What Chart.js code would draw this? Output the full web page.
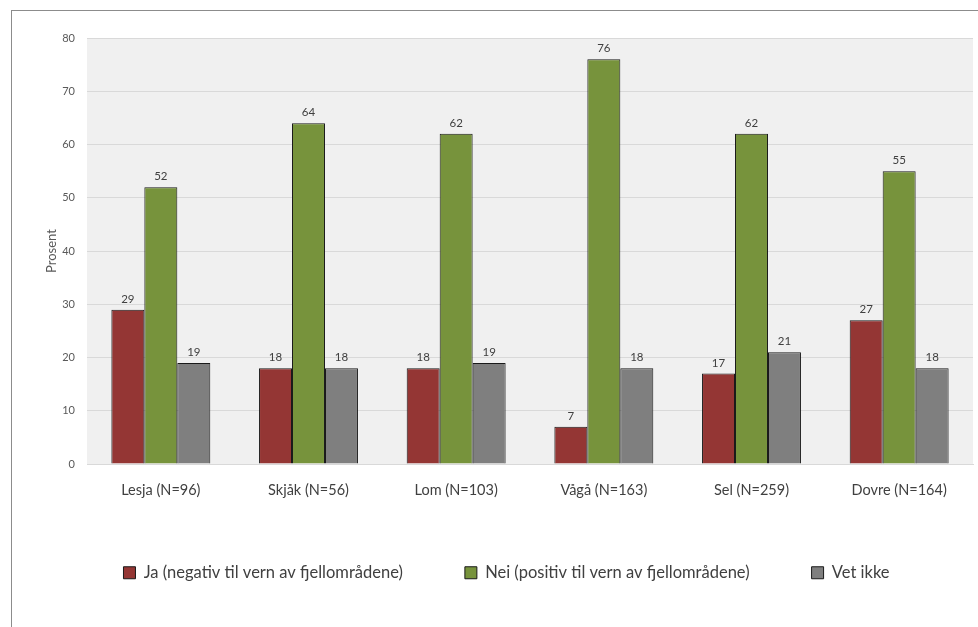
<!DOCTYPE html>
<html>
<head>
<meta charset="utf-8">
<script src="https://cdn.jsdelivr.net/npm/chart.js@4"></script>
<style>
  html, body { margin: 0; padding: 0; background: #fff; }
  #wrap { position: relative; width: 978px; height: 627px; }
  #frame { position: absolute; left: 11px; top: 10px; right: -5px; bottom: -5px;
           border-top: 1px solid #8c8c8c; border-left: 1px solid #8c8c8c; }
  canvas { position: absolute; left: 0; top: 0; }
</style>
</head>
<body>
<div id="wrap">
  <div id="frame"></div>
  <canvas id="myChart" width="978" height="627"></canvas>
</div>
<script>
// kommuner
const labels = ['Lesja (N=96)', 'Skjåk (N=56)', 'Lom (N=103)', 'Vågå (N=163)', 'Sel (N=259)', 'Dovre (N=164)']
const ja = [29, 18, 18, 7, 17, 27]
const nei = [52, 64, 62, 76, 62, 55]
const vetIkke = [19, 18, 19, 18, 21, 18]

const font = "Lato, 'Open Sans', sans-serif"

// grey plot background
const plotBg = {
  id: 'plotBg',
  beforeDraw(chart) {
    const { ctx, chartArea } = chart
    ctx.save()
    ctx.fillStyle = '#f0f0f0'
    ctx.fillRect(chartArea.left, chartArea.top, chartArea.right - chartArea.left, chartArea.bottom - chartArea.top)
    ctx.restore()
  },
}

// value labels above bars
const valueLabels = {
  id: 'valueLabels',
  afterDatasetsDraw(chart) {
    const { ctx } = chart
    ctx.save()
    ctx.font = '11.5px ' + font
    ctx.fillStyle = '#404040'
    ctx.textAlign = 'center'
    ctx.textBaseline = 'bottom'
    chart.data.datasets.forEach((ds, i) => {
      chart.getDatasetMeta(i).data.forEach((bar, j) => {
        ctx.fillText(ds.data[j], bar.x, bar.y - 5)
      })
    })
    ctx.restore()
  },
}

const myChartRef = document.getElementById('myChart').getContext('2d')

new Chart(myChartRef, {
  type: 'bar',
  data: {
    labels: labels,
    datasets: [
      {
        label: 'Ja (negativ til vern av fjellområdene)',
        data: ja,
        backgroundColor: '#943634',
      },
      {
        label: 'Nei (positiv til vern av fjellområdene)',
        data: nei,
        backgroundColor: '#77933c',
      },
      {
        label: 'Vet ikke',
        data: vetIkke,
        backgroundColor: '#7f7f7f',
      },
    ],
  },
  options: {
    responsive: false,
    animation: false,
    layout: { padding: { top: 38, right: 5, left: 40, bottom: 36 } },
    datasets: {
      bar: {
        borderColor: '#1a1a1a',
        borderWidth: 1,
        categoryPercentage: 0.67,
        barPercentage: 1,
      },
    },
    scales: {
      x: {
        grid: { display: false },
        border: { color: '#d9d9d9' },
        ticks: { color: '#404040', font: { family: font, size: 14.5 }, padding: 10 },
        afterFit(scale) { scale.height -= 7 },
      },
      y: {
        min: 0,
        max: 80,
        grid: { color: '#d9d9d9', drawTicks: false },
        border: { display: false },
        ticks: { stepSize: 10, color: '#595959', font: { family: font, size: 11 }, padding: 12 },
        title: { display: true, text: 'Prosent', color: '#595959', font: { family: font, size: 13 }, padding: { top: 4, bottom: 0 } },
        afterFit(scale) { scale.width = 47 },
      },
    },
    plugins: {
      legend: {
        position: 'bottom',
        labels: {
          color: '#404040',
          font: { family: font, size: 16.5 },
          boxWidth: 12,
          boxHeight: 12,
          padding: 62,
          useBorderRadius: false,
        },
      },
      tooltip: { enabled: false },
    },
  },
  plugins: [plotBg, valueLabels],
})
</script>
</body>
</html>
